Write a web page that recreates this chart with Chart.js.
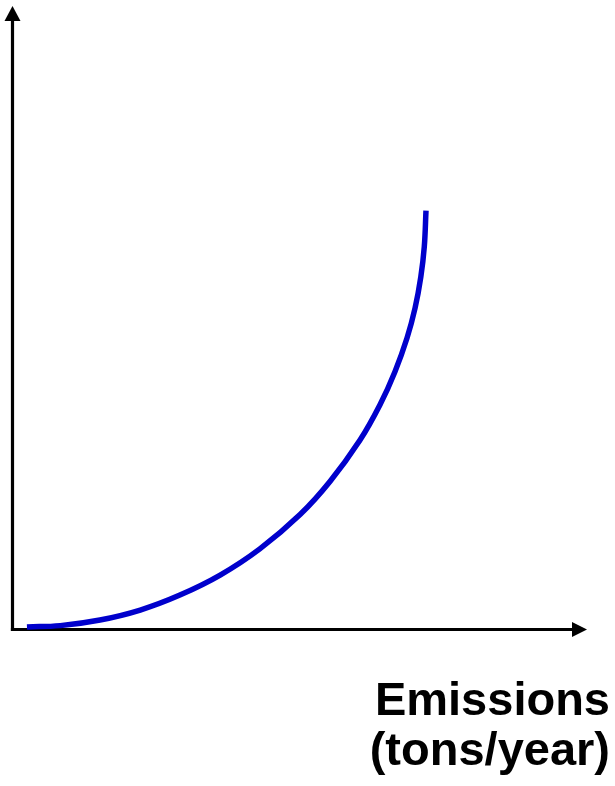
<!DOCTYPE html>
<html>
<head>
<meta charset="utf-8">
<script src="https://cdn.jsdelivr.net/npm/chart.js@4.4.1/dist/chart.umd.min.js"></script>
<style>
html,body{margin:0;padding:0;background:#fff;}
#wrap{position:relative;width:615px;height:786px;overflow:hidden;}
#c{position:absolute;left:0;top:0;}
.lbl{position:absolute;right:5px;font-family:"Liberation Sans",Arial,sans-serif;font-weight:bold;font-size:47px;line-height:50px;color:#000;text-align:right;white-space:nowrap;}
</style>
</head>
<body>
<div id="wrap">
<canvas id="c" width="615" height="786"></canvas>
<div class="lbl" id="l1" style="top:674px"></div>
<div class="lbl" id="l2" style="top:724px"></div>
</div>
<script>
// Values (arbitrary units, 0-100 on both axes)
const emissions  = [2.6, 8.4, 15.3, 22.3, 29.2, 36.2, 43.1, 50.1, 55.3, 60.5, 64.0, 66.6, 68.7, 70.1, 71.1, 71.7, 72.0];
const costValues = [0.5, 0.7, 1.6, 3.2, 5.6, 8.8, 13.0, 18.5, 23.8, 30.4, 36.1, 41.4, 46.8, 51.6, 56.6, 61.4, 67.2];
const xTitleLines = ['Emissions', '(tons/year)'];

document.getElementById('l1').textContent = xTitleLines[0];
document.getElementById('l2').textContent = xTitleLines[1];

const points = emissions.map((x, i) => ({x: x, y: costValues[i]}));

const axesArrows = {
  id: 'axesArrows',
  beforeDatasetsDraw(chart) {
    const ctx = chart.ctx, a = chart.chartArea;
    const x0 = a.left + 0.5, y0 = a.bottom - 0.5;
    ctx.save();
    ctx.strokeStyle = '#000';
    ctx.fillStyle = '#000';
    ctx.lineWidth = 3.2;
    ctx.lineCap = 'butt';
    ctx.beginPath();
    ctx.moveTo(x0, y0 + 1.6);
    ctx.lineTo(x0, a.top + 14);
    ctx.stroke();
    ctx.beginPath();
    ctx.moveTo(x0 - 1.6, y0);
    ctx.lineTo(a.right - 14, y0);
    ctx.stroke();
    ctx.beginPath();
    ctx.moveTo(x0, a.top);
    ctx.lineTo(x0 - 8, a.top + 15);
    ctx.lineTo(x0 + 8, a.top + 15);
    ctx.closePath();
    ctx.fill();
    ctx.beginPath();
    ctx.moveTo(a.right, y0);
    ctx.lineTo(a.right - 15, y0 - 7.5);
    ctx.lineTo(a.right - 15, y0 + 7.5);
    ctx.closePath();
    ctx.fill();
    ctx.restore();
  }
};

new Chart(document.getElementById('c'), {
  type: 'line',
  data: {
    datasets: [{
      data: points,
      borderColor: 'rgb(0,0,204)',
      borderWidth: 5.5,
      pointRadius: 0,
      fill: false,
      tension: 0.4,
      clip: false
    }]
  },
  options: {
    responsive: false,
    devicePixelRatio: 1,
    animation: false,
    events: [],
    layout: {padding: {left: 12, right: 28, top: 6, bottom: 156}},
    scales: {
      x: {type: 'linear', min: 0, max: 100, display: false},
      y: {type: 'linear', min: 0, max: 100, display: false}
    },
    plugins: {legend: {display: false}, tooltip: {enabled: false}}
  },
  plugins: [axesArrows]
});
</script>
</body>
</html>
